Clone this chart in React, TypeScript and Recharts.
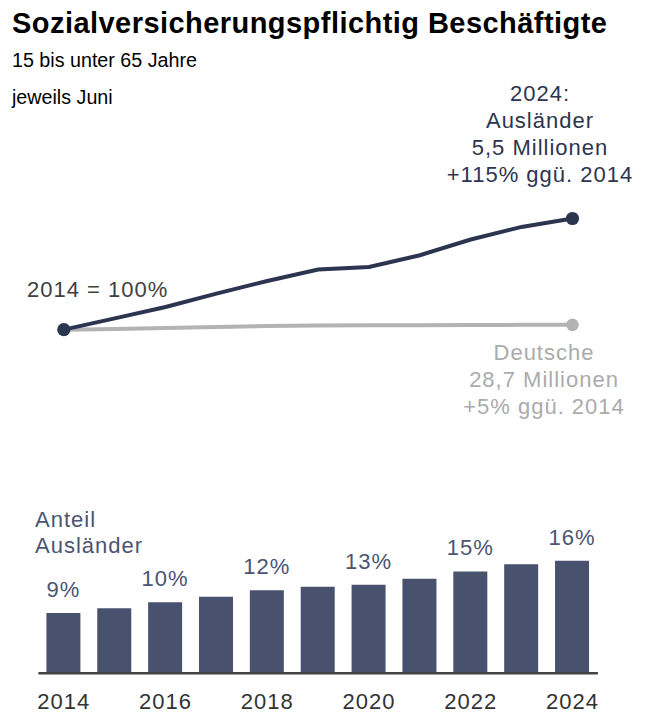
import React from "react";
import { Bar, ComposedChart, LabelList, Line, XAxis, YAxis } from "recharts";

const YEARS = ["2014", "2015", "2016", "2017", "2018", "2019", "2020", "2021", "2022", "2023", "2024"];
// Index 2014 = 100
const AUSLAENDER_INDEX = [100, 111.7, 123.4, 137.3, 150.4, 162.2, 164.9, 177, 193.3, 206.3, 215];
const DEUTSCHE_INDEX = [100, 100.8, 101.8, 102.8, 103.8, 104.4, 104.5, 104.6, 104.8, 105, 105];
// Anteil Ausländer in %
const ANTEIL_AUSLAENDER = [8.6, 9.29, 10.14, 10.94, 11.86, 12.37, 12.66, 13.51, 14.55, 15.57, 16.09];

const AUS_LINES = ["2024:", "Ausländer", "5,5 Millionen", "+115% ggü. 2014"];
const DEU_LINES = ["Deutsche", "28,7 Millionen", "+5% ggü. 2014"];

const DARK = "#2c3550";
const BAR = "#48526f";
const GREY = "#b3b3b3";
const GREY_TEXT = "#ababab";
const SLATE_TEXT = "#4a5473";
const FONT = '"Liberation Sans", Arial, sans-serif';

const W = 648;
const H = 714;
const PLOT_LEFT = 38.4;
const PLOT_RIGHT = 50.1;
const HALF_BAND = (W - PLOT_LEFT - PLOT_RIGHT) / YEARS.length / 2;

const lineData = YEARS.map((year, i) => ({
  year,
  aus: AUSLAENDER_INDEX[i],
  deu: DEUTSCHE_INDEX[i],
}));

const barData = YEARS.map((year, i) => ({ year, anteil: ANTEIL_AUSLAENDER[i] }));

function endDot(color: string, r: number) {
  return (props: any) => {
    const { cx, cy, index } = props;
    if (index !== 0 && index !== YEARS.length - 1) return <g key={`d-${index}`} />;
    return <circle key={`d-${index}`} cx={cx} cy={cy} r={r} fill={color} stroke="none" />;
  };
}

function BarValueLabel(props: any) {
  const { x, y, width, value, index } = props;
  if (index % 2 !== 0) return null;
  return (
    <text
      x={x + width / 2}
      y={y - 16}
      textAnchor="middle"
      fill={SLATE_TEXT}
      fontSize={22}
      fontFamily={FONT}
      letterSpacing={1}
    >
      {`${Math.round(value)}%`}
    </text>
  );
}

function YearTick(props: any) {
  const { x, y, payload } = props;
  return (
    <text x={x} y={y + 35.5} textAnchor="middle" fill="#333" fontSize={22} fontFamily={FONT} letterSpacing={1}>
      {payload.value}
    </text>
  );
}

const textStyle = { fontFamily: FONT };

export default function App() {
  return (
    <div style={{ position: "absolute", left: 0, top: 0, width: W, height: H, background: "#fff", overflow: "hidden" }}>
      <div style={{ position: "absolute", left: 0, top: 204 }}>
        <ComposedChart
          width={W}
          height={145}
          data={lineData}
          margin={{ top: 0, right: PLOT_RIGHT, bottom: 0, left: PLOT_LEFT }}
        >
          <XAxis dataKey="year" hide padding={{ left: HALF_BAND, right: HALF_BAND }} />
          <YAxis hide domain={[80, 230]} />
          <Line
            dataKey="deu"
            stroke={GREY}
            strokeWidth={4}
            dot={endDot(GREY, 6.3)}
            activeDot={false}
            isAnimationActive={false}
          />
          <Line
            dataKey="aus"
            stroke={DARK}
            strokeWidth={4}
            dot={endDot(DARK, 6.6)}
            activeDot={false}
            isAnimationActive={false}
          />
        </ComposedChart>
      </div>

      <div style={{ position: "absolute", left: 0, top: 500 }}>
        <ComposedChart
          width={W}
          height={214}
          data={barData}
          margin={{ top: 47.3, right: PLOT_RIGHT, bottom: 0, left: PLOT_LEFT }}
        >
          <XAxis
            dataKey="year"
            height={40.7}
            interval={1}
            tickLine={false}
            tickSize={0}
            tickMargin={0}
            axisLine={{ stroke: "#444", strokeWidth: 2.5 }}
            tick={<YearTick />}
          />
          <YAxis hide domain={[0, 18]} />
          <Bar dataKey="anteil" fill={BAR} barSize={34} isAnimationActive={false}>
            <LabelList dataKey="anteil" content={<BarValueLabel />} />
          </Bar>
        </ComposedChart>
      </div>

      <svg width={W} height={H} style={{ position: "absolute", left: 0, top: 0, pointerEvents: "none" }}>
        <text x={12} y={33} fontSize={29} fontWeight="bold" fill="#000" letterSpacing={0.45} style={textStyle}>
          Sozialversicherungspflichtig Beschäftigte
        </text>
        <text x={12} y={67} fontSize={19.7} fill="#000" style={textStyle}>
          15 bis unter 65 Jahre
        </text>
        <text x={12} y={103.5} fontSize={19.7} fill="#000" style={textStyle}>
          jeweils Juni
        </text>
        {AUS_LINES.map((t, i) => (
          <text
            key={t}
            x={540}
            y={100.7 + i * 27.1}
            textAnchor="middle"
            fontSize={22}
            letterSpacing={1}
            fill={DARK}
            style={textStyle}
          >
            {t}
          </text>
        ))}
        {DEU_LINES.map((t, i) => (
          <text
            key={t}
            x={544}
            y={359.5 + i * 27}
            textAnchor="middle"
            fontSize={22}
            letterSpacing={1}
            fill={GREY_TEXT}
            style={textStyle}
          >
            {t}
          </text>
        ))}
        <text x={27} y={296.7} fontSize={22} letterSpacing={1} fill="#404040" style={textStyle}>
          2014 = 100%
        </text>
        <text x={35} y={526.7} fontSize={22} letterSpacing={1} fill={SLATE_TEXT} style={textStyle}>
          Anteil
        </text>
        <text x={35} y={553.3} fontSize={22} letterSpacing={1} fill={SLATE_TEXT} style={textStyle}>
          Ausländer
        </text>
      </svg>
    </div>
  );
}
